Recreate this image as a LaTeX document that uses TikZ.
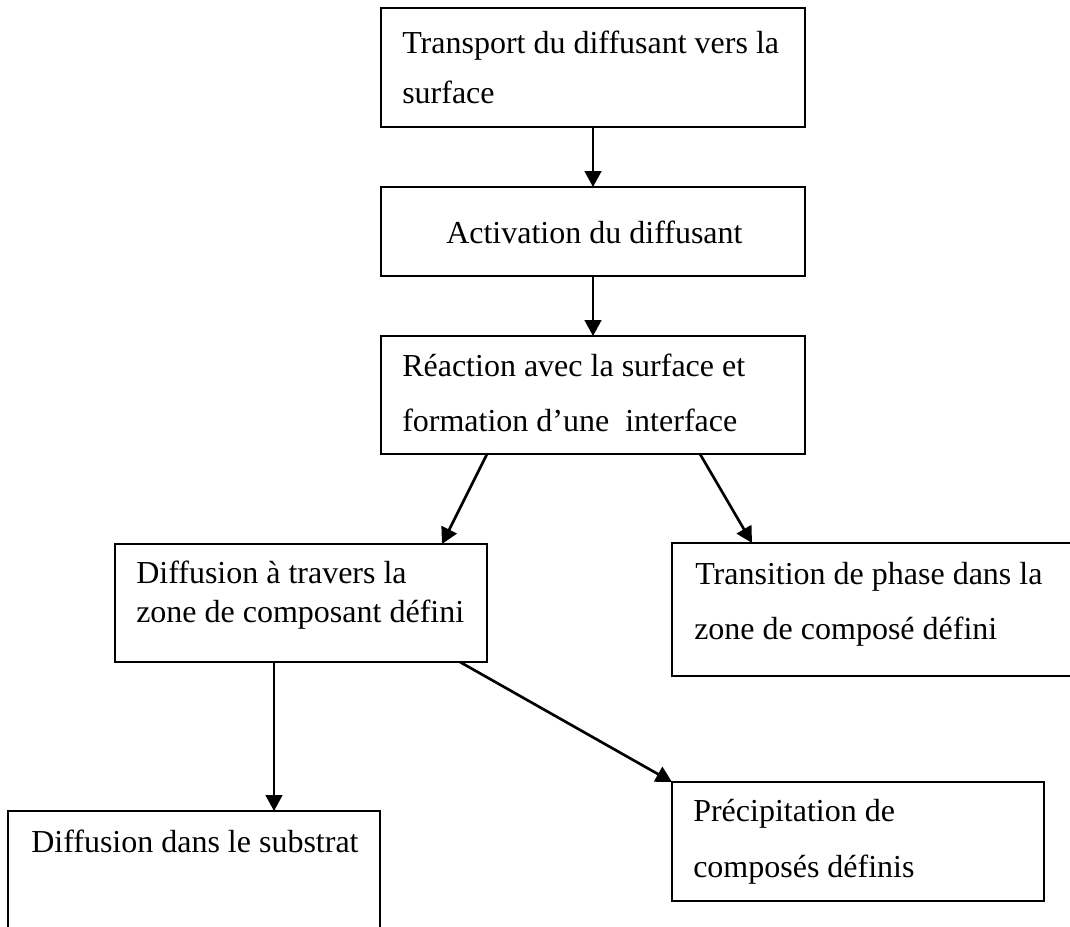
\documentclass[tikz,border=0pt]{standalone}
\usepackage{fontspec}
\setmainfont{Liberation Serif}
\usetikzlibrary{arrows.meta}
\begin{document}
\begin{tikzpicture}[x=0.75pt,y=-0.75pt,
  boxst/.style={draw=black,line width=1.5pt,rectangle,anchor=north west,inner sep=0pt,outer sep=0pt},
  txt/.style={anchor=base west,inner sep=0pt,font=\fontsize{24}{28}\selectfont},
  arr/.style={draw=black,line width=2pt,-{Triangle[length=12pt,width=12.5pt]}}]
\useasboundingbox (0,0) rectangle (1070,926);
\clip (0,0) rectangle (1070,926);
% boxes
\node[boxst,minimum width=318pt,minimum height=89.25pt] (b1) at (381,8) {};
\node[boxst,minimum width=318pt,minimum height=66.75pt] (b2) at (381,187) {};
\node[boxst,minimum width=318pt,minimum height=88.5pt] (b3) at (381,336) {};
\node[boxst,minimum width=279pt,minimum height=88.5pt] (b4) at (115,544) {};
\node[boxst,minimum width=309.75pt,minimum height=99.75pt] (b5) at (672,543) {};
\node[boxst,minimum width=279pt,minimum height=100.5pt] (b6) at (8,811) {};
\node[boxst,minimum width=279pt,minimum height=89.25pt] (b7) at (672,782) {};
% connectors
\draw[arr] (b1.south) -- (b2.north);
\draw[arr] (b2.south) -- (b3.north);
\draw[arr] ([shift={(106,0)}]b3.south west) -- ([shift={(327,0)}]b4.north west);
\draw[arr] ([shift={(319,0)}]b3.south west) -- ([shift={(80,0)}]b5.north west);
\draw[arr] ([shift={(159,0)}]b4.south west) -- ([shift={(266,0)}]b6.north west);
\draw[arr] ([shift={(345,0)}]b4.south west) -- (b7.north west);
% texts
\node[txt] (t1a) at (402,53) {Transport du diffusant vers la};
\node[txt] (t1b) at (402,103) {surface};
\node[txt] (t2) at (446,243) {Activation du diffusant};
\node[txt] (t3a) at (402,376) {Réaction avec la surface et};
\node[txt] (t3b) at (402,431) {formation d’une~~interface};
\node[txt] (t4a) at (136,583) {Diffusion à travers la};
\node[txt] (t4b) at (136,622) {zone de composant défini};
\node[txt] (t5a) at (695,584) {Transition de phase dans la};
\node[txt] (t5b) at (694,639) {zone de composé défini};
\node[txt] (t6) at (31,852) {Diffusion dans le substrat};
\node[txt] (t7a) at (693,821) {Précipitation de};
\node[txt] (t7b) at (693,877) {composés définis};
\end{tikzpicture}
\end{document}
